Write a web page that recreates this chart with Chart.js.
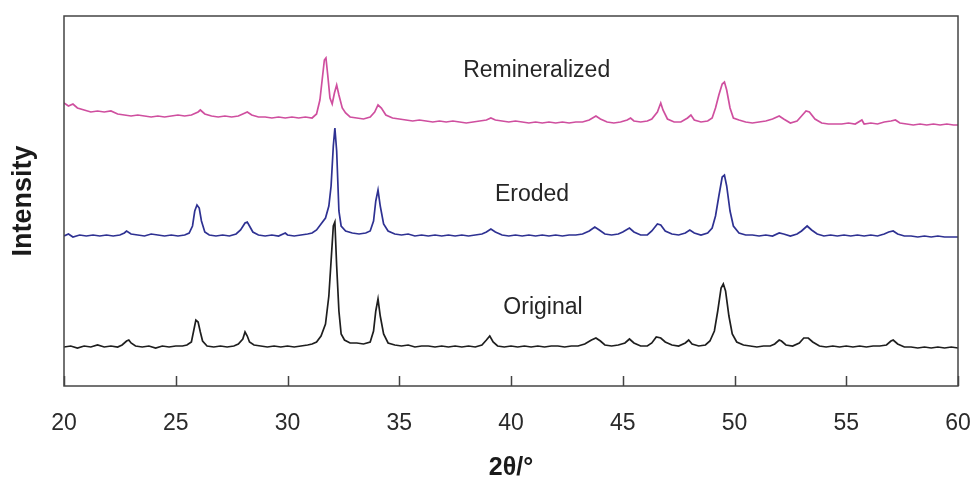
<!DOCTYPE html>
<html>
<head>
<meta charset="utf-8">
<title>XRD patterns</title>
<script src="https://cdn.jsdelivr.net/npm/chart.js@4.4.1/dist/chart.umd.min.js"></script>
<style>
    html, body { margin: 0; padding: 0; background: #fff; }
    .chart-container { position: relative; width: 974px; height: 484px; }
</style>
</head>
<body>
<div class="chart-container"><canvas id="xrd"></canvas></div>
<script>
// 2theta tick labels
const xTicks = [20, 25, 30, 35, 40, 45, 50, 55, 60];
const seriesNames = ['Remineralized', 'Eroded', 'Original'];

// Original sample (offset intensity, arbitrary units)
const originalX = [20.0, 20.3, 20.6, 20.9, 21.2, 21.5, 21.8, 22.1, 22.4, 22.6, 22.8, 22.9, 23.0, 23.2, 23.5, 23.8, 24.1, 24.4, 24.7, 25.0,
    25.3, 25.5, 25.7, 25.8, 25.9, 26.0, 26.1, 26.2, 26.4, 26.7, 27.0, 27.3, 27.6, 27.8, 28.0, 28.1, 28.2, 28.3, 28.5, 28.8,
    29.1, 29.4, 29.7, 30.0, 30.3, 30.6, 30.9, 31.1, 31.3, 31.5, 31.7, 31.85, 31.95, 32.05, 32.12, 32.2, 32.3, 32.4, 32.55, 32.8,
    33.1, 33.4, 33.7, 33.85, 33.95, 34.05, 34.15, 34.3, 34.5, 34.8, 35.1, 35.4, 35.7, 36.0, 36.3, 36.6, 36.9, 37.2, 37.5, 37.8,
    38.1, 38.4, 38.7, 38.9, 39.05, 39.2, 39.4, 39.7, 40.0, 40.3, 40.6, 40.9, 41.2, 41.5, 41.8, 42.1, 42.4, 42.7, 43.0, 43.3,
    43.6, 43.8, 44.0, 44.2, 44.5, 44.8, 45.1, 45.3, 45.5, 45.8, 46.1, 46.3, 46.5, 46.7, 46.9, 47.2, 47.5, 47.8, 47.95, 48.1,
    48.4, 48.7, 48.9, 49.1, 49.25, 49.4, 49.5, 49.6, 49.75, 49.9, 50.1, 50.4, 50.7, 51.0, 51.3, 51.6, 51.8, 52.0, 52.1, 52.3,
    52.6, 52.9, 53.1, 53.3, 53.5, 53.8, 54.1, 54.4, 54.7, 55.0, 55.3, 55.6, 55.9, 56.2, 56.5, 56.8, 57.0, 57.1, 57.3, 57.6,
    57.9, 58.2, 58.5, 58.8, 59.1, 59.4, 59.7, 60.0];
const originalY = [39, 40, 38, 40, 39, 41, 39, 40, 39, 41, 45, 46, 43, 40, 39, 40, 38, 40, 39, 40,
    40, 41, 44, 55, 66, 64, 54, 45, 40, 39, 40, 39, 40, 42, 47, 54, 50, 44, 41, 40,
    39, 40, 39, 40, 39, 40, 41, 42, 44, 50, 62, 90, 125, 160, 164, 120, 75, 52, 46, 43,
    43, 42, 44, 55, 75, 87, 70, 52, 43, 41, 40, 41, 39, 40, 40, 39, 40, 39, 40, 39,
    40, 39, 41, 46, 50, 44, 40, 39, 40, 39, 40, 39, 40, 39, 40, 40, 39, 40, 40, 42,
    46, 48, 45, 41, 40, 41, 43, 47, 43, 40, 40, 43, 49, 48, 44, 41, 40, 43, 46, 42,
    40, 41, 45, 55, 75, 98, 102, 95, 70, 52, 44, 41, 40, 39, 40, 40, 42, 46, 45, 41,
    40, 43, 48, 48, 44, 40, 39, 40, 39, 40, 39, 40, 39, 40, 40, 41, 45, 46, 42, 39,
    39, 38, 39, 38, 39, 38, 39, 38];

// Eroded sample
const erodedX = [20.0, 20.2, 20.4, 20.7, 21.0, 21.3, 21.6, 21.9, 22.2, 22.5, 22.7, 22.8, 23.0, 23.3, 23.6, 23.9, 24.2, 24.5, 24.8, 25.1,
    25.4, 25.6, 25.75, 25.85, 25.95, 26.05, 26.15, 26.3, 26.5, 26.8, 27.1, 27.4, 27.7, 27.9, 28.1, 28.2, 28.3, 28.45, 28.7, 29.0,
    29.3, 29.6, 29.9, 30.0, 30.3, 30.6, 30.9, 31.1, 31.3, 31.5, 31.7, 31.85, 31.95, 32.05, 32.12, 32.2, 32.3, 32.4, 32.6, 32.9,
    33.2, 33.5, 33.7, 33.85, 33.95, 34.05, 34.15, 34.3, 34.5, 34.8, 35.1, 35.4, 35.7, 36.0, 36.3, 36.6, 36.9, 37.2, 37.5, 37.8,
    38.1, 38.4, 38.7, 38.9, 39.1, 39.3, 39.6, 39.9, 40.2, 40.5, 40.8, 41.1, 41.4, 41.7, 42.0, 42.3, 42.6, 42.9, 43.2, 43.5,
    43.75, 43.95, 44.2, 44.5, 44.8, 45.0, 45.3, 45.5, 45.8, 46.1, 46.3, 46.55, 46.7, 46.9, 47.2, 47.5, 47.8, 48.0, 48.2, 48.5,
    48.8, 49.0, 49.15, 49.3, 49.45, 49.55, 49.65, 49.8, 49.95, 50.2, 50.5, 50.8, 51.1, 51.4, 51.7, 52.0, 52.2, 52.5, 52.8, 53.0,
    53.25, 53.45, 53.7, 54.0, 54.3, 54.6, 54.9, 55.2, 55.5, 55.8, 56.1, 56.4, 56.7, 56.9, 57.1, 57.3, 57.6, 57.9, 58.2, 58.5,
    58.8, 59.1, 59.4, 59.7, 60.0];
const erodedY = [150, 152, 149, 151, 150, 151, 150, 151, 150, 151, 153, 155, 152, 151, 150, 152, 151, 150, 151, 150,
    151, 153, 160, 175, 181, 178, 165, 154, 151, 150, 151, 150, 152, 156, 163, 164, 160, 154, 151, 150,
    151, 150, 153, 151, 150, 151, 152, 153, 156, 162, 168, 180, 200, 240, 258, 235, 175, 160, 155, 153,
    152, 153, 155, 165, 185, 196, 180, 162, 155, 152, 151, 152, 150, 151, 150, 151, 150, 151, 150, 151,
    150, 151, 152, 154, 157, 154, 151, 150, 151, 150, 151, 150, 151, 150, 151, 150, 151, 151, 152, 155,
    159, 156, 152, 151, 152, 154, 158, 154, 151, 151, 155, 162, 161, 155, 152, 151, 153, 156, 153, 151,
    153, 158, 170, 190, 209, 211, 200, 175, 160, 153, 151, 151, 150, 151, 150, 153, 152, 150, 152, 155,
    160, 156, 152, 150, 151, 150, 151, 150, 151, 150, 151, 150, 152, 154, 155, 152, 150, 150, 149, 150,
    149, 150, 149, 149, 149];

// Remineralized sample
const remineralizedX = [20.0, 20.2, 20.4, 20.6, 20.9, 21.2, 21.5, 21.8, 22.1, 22.4, 22.7, 23.0, 23.3, 23.6, 23.9, 24.2, 24.5, 24.8, 25.1, 25.4,
    25.7, 26.0, 26.1, 26.3, 26.6, 26.9, 27.2, 27.5, 27.8, 28.1, 28.2, 28.4, 28.7, 29.0, 29.3, 29.6, 29.9, 30.2, 30.5, 30.8,
    31.1, 31.3, 31.45, 31.55, 31.65, 31.72, 31.8, 31.9, 32.0, 32.1, 32.2, 32.3, 32.45, 32.6, 32.8, 33.1, 33.4, 33.7, 33.9, 34.05,
    34.2, 34.4, 34.7, 35.0, 35.3, 35.6, 35.9, 36.2, 36.5, 36.8, 37.1, 37.4, 37.7, 38.0, 38.3, 38.6, 38.9, 39.1, 39.3, 39.6,
    39.9, 40.2, 40.5, 40.8, 41.1, 41.4, 41.7, 42.0, 42.3, 42.6, 42.9, 43.2, 43.5, 43.8, 44.0, 44.3, 44.6, 44.9, 45.2, 45.35,
    45.5, 45.8, 46.1, 46.3, 46.55, 46.7, 46.8, 47.0, 47.3, 47.6, 47.9, 48.05, 48.2, 48.5, 48.8, 49.0, 49.15, 49.3, 49.45, 49.55,
    49.65, 49.8, 49.95, 50.2, 50.5, 50.8, 51.1, 51.4, 51.7, 52.0, 52.2, 52.5, 52.8, 53.0, 53.2, 53.35, 53.6, 53.9, 54.2, 54.5,
    54.8, 55.1, 55.4, 55.7, 55.8, 56.1, 56.4, 56.7, 57.0, 57.2, 57.4, 57.7, 58.0, 58.3, 58.6, 58.9, 59.2, 59.5, 59.8, 60.0];
const remineralizedY = [283, 280, 282, 278, 276, 274, 275, 274, 275, 272, 271, 270, 271, 270, 269, 270, 269, 270, 271, 270,
    271, 274, 276, 272, 270, 269, 270, 269, 270, 273, 274, 271, 269, 269, 268, 269, 268, 269, 268, 269,
    268, 272, 286, 306, 326, 328, 311, 288, 282, 293, 301, 291, 278, 273, 269, 268, 267, 269, 274, 281,
    278, 271, 268, 267, 266, 265, 266, 265, 264, 265, 264, 265, 264, 263, 264, 265, 266, 268, 266, 265,
    264, 265, 264, 263, 264, 263, 264, 263, 264, 263, 264, 264, 266, 270, 267, 264, 263, 264, 266, 268,
    265, 264, 265, 267, 274, 283, 276, 267, 264, 264, 268, 271, 266, 264, 265, 268, 278, 291, 302, 304,
    296, 278, 268, 266, 264, 263, 264, 265, 267, 270, 267, 263, 265, 270, 275, 274, 267, 263, 262, 262,
    262, 263, 262, 266, 262, 263, 262, 264, 265, 266, 263, 262, 261, 262, 261, 262, 261, 262, 261, 261];

const seriesX = [remineralizedX, erodedX, originalX];
const seriesY = [remineralizedY, erodedY, originalY];
const seriesColors = ['#cf4f9f', '#2e3192', '#1e1e1e'];

// where each curve's name sits, in data units
const labelX = [41.15, 40.94, 41.43];
const labelY = [315, 191, 78];

const FONT = "'Liberation Sans', Arial, sans-serif";

// frame, inward ticks and the curve names
const framePlugin = {
    id: 'frame',
    afterDraw(chart) {
        const { ctx, chartArea: a, scales: { x, y } } = chart;
        ctx.save();
        ctx.strokeStyle = '#444';
        ctx.lineWidth = 1.5;
        ctx.strokeRect(a.left, a.top, a.right - a.left, a.bottom - a.top);

        ctx.beginPath();
        xTicks.forEach(t => {
            const px = Math.round(x.getPixelForValue(t)) + 0.5;
            ctx.moveTo(px, a.bottom);
            ctx.lineTo(px, a.bottom - 10);
        });
        ctx.stroke();

        ctx.fillStyle = '#262626';
        ctx.font = '23px ' + FONT;
        ctx.textAlign = 'center';
        ctx.textBaseline = 'middle';
        seriesNames.forEach((name, i) => {
            ctx.fillText(name, x.getPixelForValue(labelX[i]), y.getPixelForValue(labelY[i]));
        });
        ctx.restore();
    }
};

const datasets = seriesNames.map((name, i) => ({
    label: name,
    data: seriesX[i].map((v, j) => ({ x: v, y: seriesY[i][j] })),
    borderColor: seriesColors[i],
    borderWidth: 1.7,
    pointRadius: 0,
    tension: 0,
    fill: false
}));

new Chart(document.getElementById('xrd').getContext('2d'), {
    type: 'line',
    data: { datasets },
    options: {
        responsive: true,
        maintainAspectRatio: false,
        animation: false,
        layout: { padding: { top: 16, right: 16, left: 0, bottom: 0 } },
        plugins: {
            legend: { display: false },
            tooltip: { enabled: false }
        },
        scales: {
            x: {
                type: 'linear',
                min: 20,
                max: 60,
                afterFit: s => {
                    s.height = 98;
                    // let the end labels hang over the edges, like the original
                    s.paddingLeft = 0;
                    s.paddingRight = 0;
                },
                afterBuildTicks: s => { s.ticks = xTicks.map(v => ({ value: v })); },
                grid: { display: false, drawTicks: false },
                border: { display: false },
                ticks: {
                    color: '#2a2a2a',
                    padding: 24,
                    maxRotation: 0,
                    font: { family: FONT, size: 23 }
                },
                title: {
                    display: true,
                    text: '2θ/°',
                    color: '#1a1a1a',
                    padding: { top: 0, bottom: 1 },
                    font: { family: FONT, size: 25, weight: 'bold' }
                }
            },
            y: {
                min: 0,
                max: 370,
                afterFit: s => { s.width = 64; },
                grid: { display: false, drawTicks: false },
                border: { display: false },
                ticks: { display: false },
                title: {
                    display: true,
                    text: 'Intensity',
                    color: '#1a1a1a',
                    padding: { top: 7, bottom: 0 },
                    font: { family: FONT, size: 27, weight: 'bold' }
                }
            }
        }
    },
    plugins: [framePlugin]
});
</script>
</body>
</html>
